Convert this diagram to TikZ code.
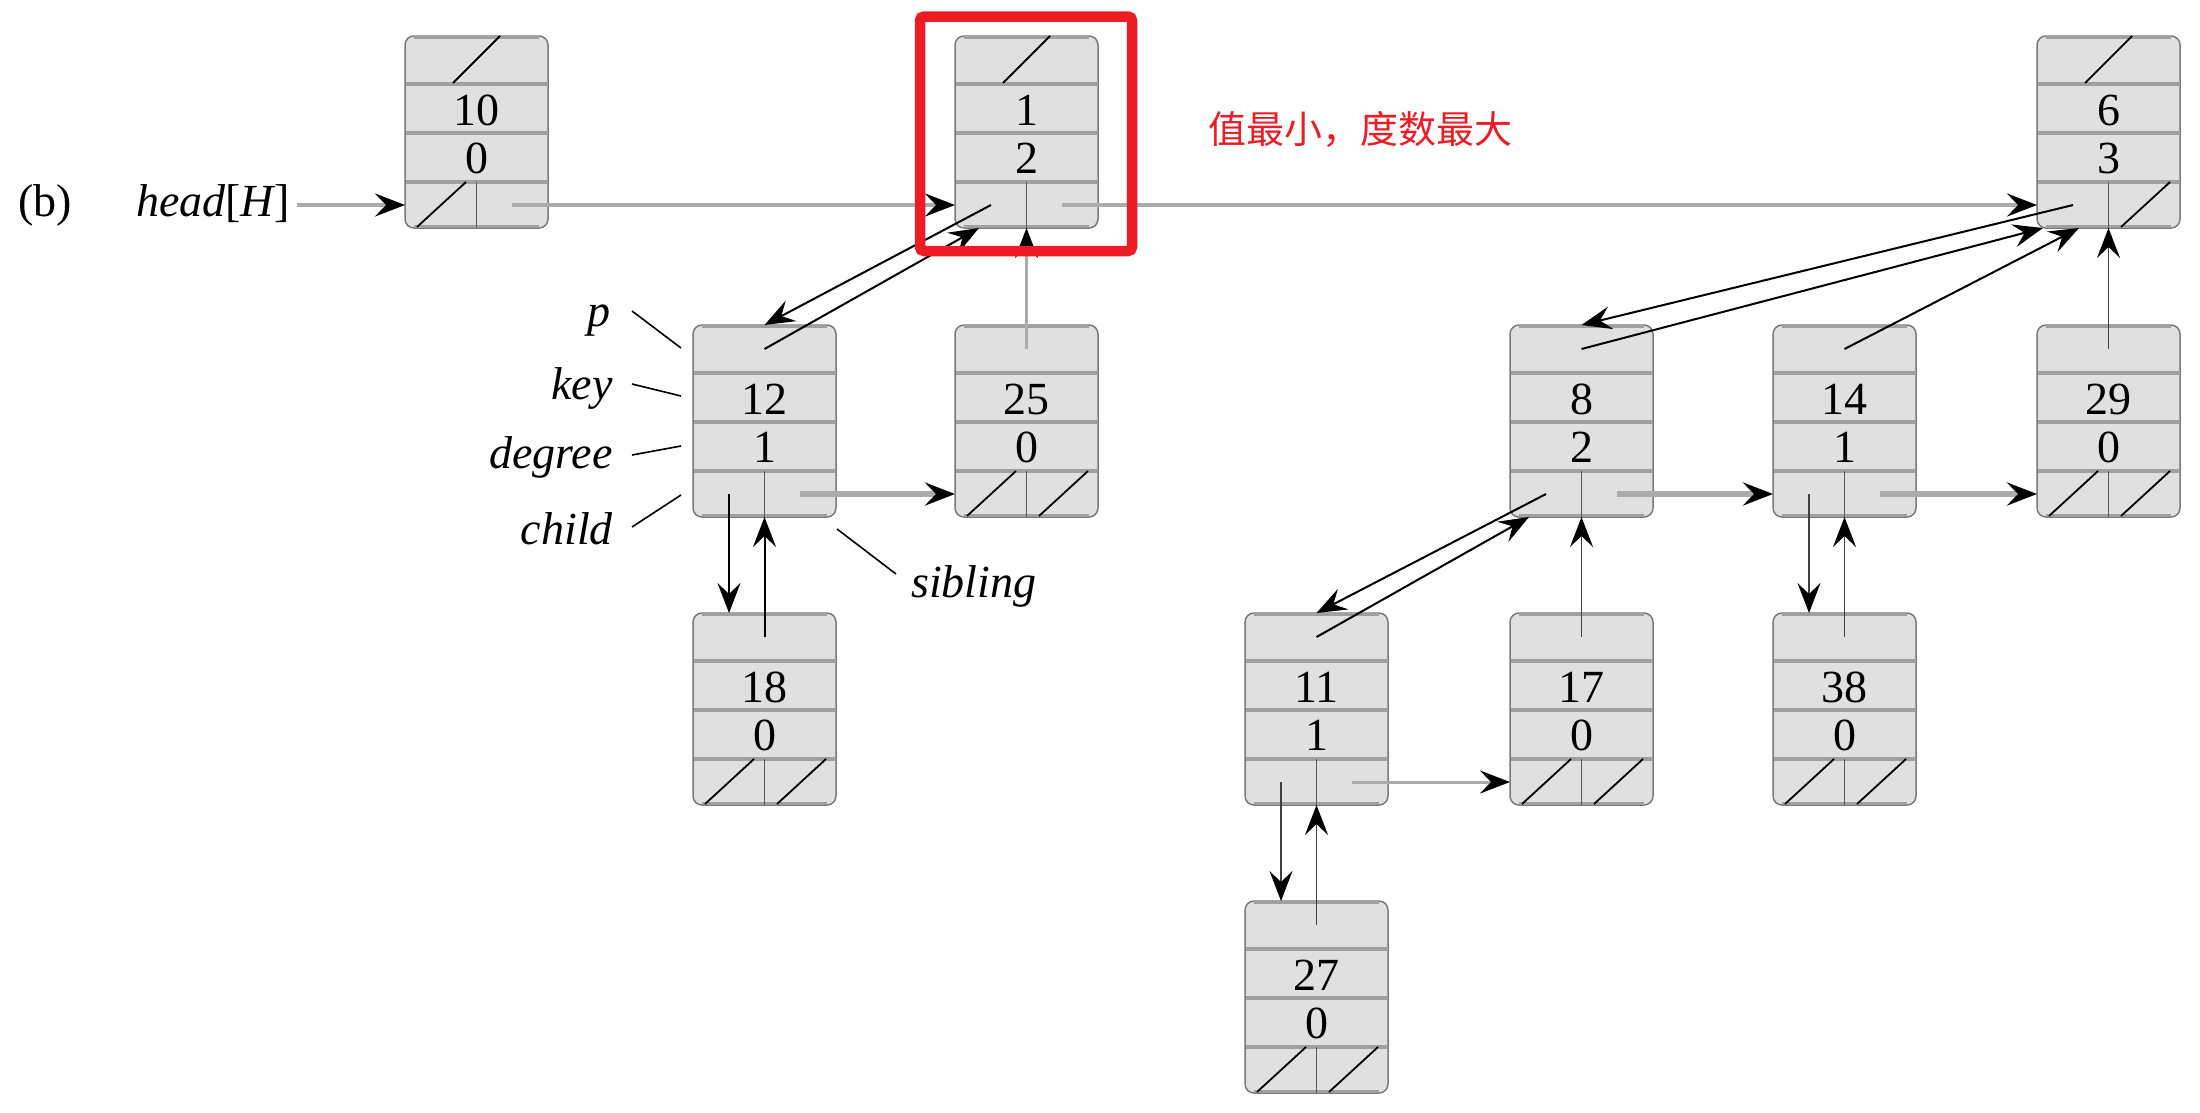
\documentclass[tikz,border=0pt]{standalone}
\usepackage{fontspec}
\setmainfont{Liberation Serif}
\newfontfamily\cjk{Noto Sans CJK SC}
\usetikzlibrary{arrows.meta,calc}
\definecolor{boxfill}{HTML}{E0E0E0}
\definecolor{rowline}{HTML}{A0A0A0}
\definecolor{boxborder}{HTML}{7A7A7A}
\definecolor{sibgray}{HTML}{ABABAB}
\definecolor{hlred}{HTML}{ED1C24}
\tikzset{
  tip/.style={-{Stealth[length=30pt,width=23pt,inset=11pt,color=black]}},
  bnbox/.style={draw=boxborder, line width=1.5pt, fill=boxfill, rounded corners=9pt,
    minimum width=143pt, minimum height=192pt, inner sep=0pt, outer sep=0pt},
  rowsep/.style={draw=rowline, line width=3.5pt},
  divider/.style={draw=black!65, line width=1.4pt},
  nilslash/.style={draw=black, line width=1.8pt},
  ptr/.style={tip, draw=black, line width=2pt},
  vptr/.style={tip, draw=black!75, line width=1.6pt},
  sib/.style={tip, draw=sibgray, line width=4pt},
  sibthick/.style={tip, draw=sibgray, line width=6pt},
  sibthin/.style={tip, draw=sibgray, line width=3pt},
  lbl/.style={font=\fontsize{46}{50}\selectfont\itshape, inner sep=0pt},
  val/.style={font=\fontsize{46}{50}\selectfont, inner sep=0pt},
  leader/.style={draw=black, line width=1.6pt},
}
% name, x, y (top-left corner), key, degree
\newcommand\binnode[5]{%
  \node[bnbox] (#1) at (#2+71.5,#3+96) {};
  \draw[rowsep] (#2+1,#3+48) -- (#2+142,#3+48);
  \draw[rowsep] (#2+1,#3+97) -- (#2+142,#3+97);
  \draw[rowsep] (#2+1,#3+146) -- (#2+142,#3+146);
  \draw[rowsep] (#2+9,#3+1.5) -- (#2+134,#3+1.5);
  \draw[rowsep] (#2+9,#3+190.5) -- (#2+134,#3+190.5);
  \draw[divider] (#2+71.5,#3+146) -- (#2+71.5,#3+192);
  \node[val] (#1-k) at (#2+71.5,#3+74) {#4};
  \node[val] (#1-d) at (#2+71.5,#3+122) {#5};
  \coordinate (#1-p) at (#2+71.5,#3+24);
  \coordinate (#1-c) at (#2+36,#3+169);
  \coordinate (#1-s) at (#2+107,#3+169);
}
\newcommand\nilP[1]{\draw[nilslash] ($(#1.north west)+(48,47)$) -- ($(#1.north west)+(95,0)$);}
\newcommand\nilC[1]{\draw[nilslash] ($(#1.north west)+(12,191)$) -- ($(#1.north west)+(61,146)$);}
\newcommand\nilS[1]{\draw[nilslash] ($(#1.north west)+(84,191)$) -- ($(#1.north west)+(133,146)$);}
\begin{document}
\begin{tikzpicture}[x=1pt,y=-1pt]
\useasboundingbox (0,0) rectangle (2200,1112);
% nodes
\binnode{n10}{405}{36}{10}{0}
\binnode{n1}{955}{36}{1}{2}
\binnode{n6}{2037}{36}{6}{3}
\binnode{n12}{693}{325}{12}{1}
\binnode{n25}{955}{325}{25}{0}
\binnode{n8}{1510}{325}{8}{2}
\binnode{n14}{1773}{325}{14}{1}
\binnode{n29}{2037}{325}{29}{0}
\binnode{n18}{693}{613}{18}{0}
\binnode{n11}{1245}{613}{11}{1}
\binnode{n17}{1510}{613}{17}{0}
\binnode{n38}{1773}{613}{38}{0}
\binnode{n27}{1245}{901}{27}{0}
% nil pointers
\nilP{n10}\nilP{n1}\nilP{n6}
\nilC{n10}
\foreach \n in {n25,n18,n29,n17,n38,n27}{\nilC{\n}\nilS{\n}}
\nilS{n6}
% labels
\node[val, anchor=base west] (b) at (18,216) {(b)};
\node[val, anchor=base west] (head) at (136,216) {{\itshape head}[{\itshape H}]};
\node[lbl, anchor=base east] (lp) at (611,326) {p};
\node[lbl, anchor=base east] (lk) at (613,399) {key};
\node[lbl, anchor=base east] (ld) at (613,468) {degree};
\node[lbl, anchor=base east] (lc) at (613,544) {child};
\node[lbl, anchor=base west] (ls) at (911,597) {sibling};
\coordinate (lpa) at (632,311); \coordinate (lpb) at (681,348);
\coordinate (lka) at (632,384); \coordinate (lkb) at (681,396);
\coordinate (lda) at (632,455); \coordinate (ldb) at (681,446);
\coordinate (lca) at (632,527); \coordinate (lcb) at (681,495);
\coordinate (lsa) at (837,529); \coordinate (lsb) at (896,574);
\draw[leader] (lpa) -- (lpb);
\draw[leader] (lka) -- (lkb);
\draw[leader] (lda) -- (ldb);
\draw[leader] (lca) -- (lcb);
\draw[leader] (lsa) -- (lsb);
% landing points of parent pointers
\coordinate (n1-pa) at ($(n1.south west)+(24,0)$);
\coordinate (n6-pa) at ($(n6.south west)+(6,0)$);
\coordinate (n6-pb) at ($(n6.south west)+(42,0)$);
\coordinate (n8-pa) at ($(n8.south west)+(19,0)$);
\coordinate (hs) at (297,205);
% sibling pointers
\draw[sib] (hs) -- (hs -| n10.west);
\draw[sib] (n10-s) -- (n10-s -| n1.west);
\draw[sib] (n1-s) -- (n1-s -| n6.west);
\draw[sibthick] (n12-s) -- (n12-s -| n25.west);
\draw[sibthick] (n8-s) -- (n8-s -| n14.west);
\draw[sibthick] (n14-s) -- (n14-s -| n29.west);
\draw[sibthin] (n11-s) -- (n11-s -| n17.west);
% child and parent pointers
\draw[ptr] (n1-c) -- (n12.north);
\draw[ptr] (n12-p) -- (n1-pa);
\draw[vptr, draw=sibgray, line width=3pt] (n25-p) -- (n1.south);
\draw[ptr] (n6-c) -- (n8.north);
\draw[ptr] (n8-p) -- (n6-pa);
\draw[ptr] (n14-p) -- (n6-pb);
\draw[vptr] (n29-p) -- (n6.south);
\draw[ptr] (n12-c) -- (n12-c |- n18.north);
\draw[ptr] (n18-p) -- (n12.south);
\draw[ptr] (n8-c) -- (n11.north);
\draw[ptr] (n11-p) -- (n8-pa);
\draw[vptr] (n17-p) -- (n8.south);
\draw[vptr] (n14-c) -- (n14-c |- n38.north);
\draw[vptr] (n38-p) -- (n14.south);
\draw[vptr] (n11-c) -- (n11-c |- n27.north);
\draw[vptr] (n27-p) -- (n11.south);
% highlight
\node[draw=hlred, line width=10.5pt, rounded corners=4pt, minimum width=212pt,
  minimum height=234.5pt, inner sep=0pt] (hl) at (1026,133.75) {};
\node[font=\cjk\fontsize{38}{40}\selectfont, text=hlred, inner sep=0pt] (note) at (1360,129) {值最小，度数最大};
\end{tikzpicture}
\end{document}
